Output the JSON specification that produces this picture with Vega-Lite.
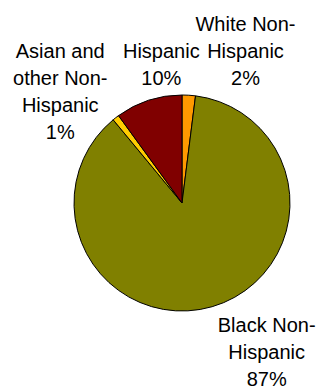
{
  "$schema": "https://vega.github.io/schema/vega-lite/v6.json",
  "autosize": "none",
  "width": 278,
  "height": 374,
  "padding": {"left": 43, "top": 16, "right": 0, "bottom": 0},
  "background": "white",
  "data": {
    "values": [
      {"group": "White Non-Hispanic", "value": 2, "rank": 1, "label": "White Non-\nHispanic\n2%"},
      {"group": "Black Non-Hispanic", "value": 87, "rank": 2, "label": "Black Non-\nHispanic\n87%"},
      {"group": "Asian and other Non-Hispanic", "value": 1, "rank": 3, "label": "Asian and\nother Non-\nHispanic\n1%"},
      {"group": "Hispanic", "value": 10, "rank": 4, "label": "Hispanic\n10%"}
    ]
  },
  "encoding": {
    "theta": {"field": "value", "type": "quantitative", "stack": true},
    "order": {"field": "rank", "type": "quantitative"},
    "detail": {"field": "group", "type": "nominal"}
  },
  "layer": [
    {
      "mark": {"type": "arc", "outerRadius": 108, "stroke": "black", "strokeWidth": 1},
      "encoding": {
        "color": {
          "field": "group",
          "type": "nominal",
          "scale": {
            "domain": ["White Non-Hispanic", "Black Non-Hispanic", "Asian and other Non-Hispanic", "Hispanic"],
            "range": ["#FF9900", "#808000", "#FFCC00", "#800000"]
          },
          "legend": null
        }
      }
    },
    {
      "mark": {"type": "text", "radius": 135, "font": "Liberation Sans", "fontSize": 20, "lineBreak": "\n", "lineHeight": 27, "align": "center", "baseline": "middle", "color": "black", "dx": 55, "dy": -43},
      "encoding": {
        "text": {"condition": {"test": "datum.group === 'White Non-Hispanic'", "field": "label"}, "value": ""}
      }
    },
    {
      "mark": {"type": "text", "radius": 135, "font": "Liberation Sans", "fontSize": 20, "lineBreak": "\n", "lineHeight": 27, "align": "center", "baseline": "middle", "color": "black", "dx": 21, "dy": -23},
      "encoding": {
        "text": {"condition": {"test": "datum.group === 'Hispanic'", "field": "label"}, "value": ""}
      }
    },
    {
      "mark": {"type": "text", "radius": 135, "font": "Liberation Sans", "fontSize": 20, "lineBreak": "\n", "lineHeight": 27, "align": "center", "baseline": "middle", "color": "black", "dx": -39, "dy": -44},
      "encoding": {
        "text": {"condition": {"test": "datum.group === 'Asian and other Non-Hispanic'", "field": "label"}, "value": ""}
      }
    },
    {
      "mark": {"type": "text", "radius": 135, "font": "Liberation Sans", "fontSize": 20, "lineBreak": "\n", "lineHeight": 27, "align": "center", "baseline": "middle", "color": "black", "dx": 47, "dy": -7},
      "encoding": {
        "text": {"condition": {"test": "datum.group === 'Black Non-Hispanic'", "field": "label"}, "value": ""}
      }
    }
  ]
}
